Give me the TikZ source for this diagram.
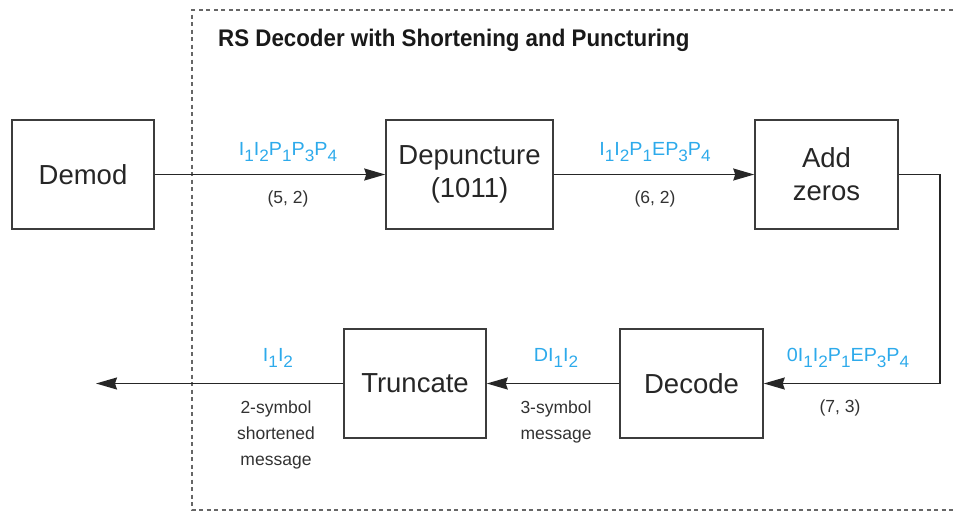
\documentclass[tikz,border=0pt]{standalone}
\usepackage{fontspec}
\setmainfont{Liberation Sans}
\newfontfamily\sigfont[FakeStretch=1.04]{Liberation Sans}
\newfontfamily\titlefont[FakeStretch=0.93]{Liberation Sans}
\usetikzlibrary{arrows.meta}
\definecolor{lblblue}{RGB}{45,170,235}
\definecolor{boxgray}{RGB}{60,60,60}
\definecolor{txtgray}{RGB}{50,50,50}
\newcommand\sbs[1]{\raisebox{-6pt}{\fontsize{16.5}{16.5}\selectfont #1}}
\tikzset{
  blk/.style={draw=boxgray, line width=1.5pt, minimum height=109pt, align=center,
    font=\fontsize{27.5}{33}\selectfont, text=black!85, inner sep=0pt},
  conn/.style={draw=black!85, line width=1.5pt},
  arr/.style={conn, -{Stealth[length=21pt,width=12pt,inset=2pt]}},
  sig/.style={text=lblblue, font=\sigfont\fontsize{19}{19}\selectfont, inner sep=0pt},
  note/.style={text=txtgray, font=\fontsize{17.5}{26}\selectfont, align=center, inner sep=0pt},
  frame/.style={draw=black!60, line width=1.1pt, dash pattern=on 4pt off 3.5pt},
  ttl/.style={font=\titlefont\bfseries\fontsize{24}{24}\selectfont, text=black!90, anchor=west, inner sep=0pt}
}
\begin{document}
\begin{tikzpicture}[x=1pt,y=-1pt]
\useasboundingbox (0,0) rectangle (955,512);
% dashed frame
\coordinate (ftl) at (192,10);
\coordinate (fbl) at (192,510);
\coordinate (ftr) at (960,10);
\coordinate (fbr) at (960,510);
\draw[frame] (ftr) -- (ftl) -- (fbl) -- (fbr);
\node[ttl] (title) at (218,40) {RS Decoder with Shortening and Puncturing};
% blocks
\node[blk, minimum width=142pt] (demod) at (83,174.5) {Demod};
\node[blk, minimum width=167pt] (dep) at (469.5,174.5) {Depuncture\\(1011)};
\node[blk, minimum width=143pt] (addz) at (826.5,174.5) {Add\\zeros};
\node[blk, minimum width=143pt] (dec) at (691.5,383.5) {Decode};
\node[blk, minimum width=142pt] (trunc) at (415,383.5) {Truncate};
\coordinate (c1) at (940,174.5);
\coordinate (c2) at (940,383.5);
\coordinate (out) at (96,383.5);
% connectors
\draw[arr] (demod) -- (dep);
\draw[arr] (dep) -- (addz);
\draw[arr] (addz.east) -- (c1) -- (c2) -- (dec.east);
\draw[arr] (dec) -- (trunc);
\draw[arr] (trunc) -- (out);
% labels
\node[sig] (s1) at (288,152) {I\sbs1I\sbs2P\sbs1P\sbs3P\sbs4};
\node[note] (n1) at (288,199) {(5, 2)};
\node[sig] (s2) at (655,152) {I\sbs1I\sbs2P\sbs1EP\sbs3P\sbs4};
\node[note] (n2) at (655,199) {(6, 2)};
\node[sig] (s3) at (848,358) {0I\sbs1I\sbs2P\sbs1EP\sbs3P\sbs4};
\node[note] (n3) at (840,408) {(7, 3)};
\node[sig] (s4) at (556,358) {DI\sbs1I\sbs2};
\node[note] (n4) at (556,422) {3-symbol\\message};
\node[sig] (s5) at (278,358) {I\sbs1I\sbs2};
\node[note] (n5) at (276,435) {2-symbol\\shortened\\message};
\end{tikzpicture}
\end{document}
